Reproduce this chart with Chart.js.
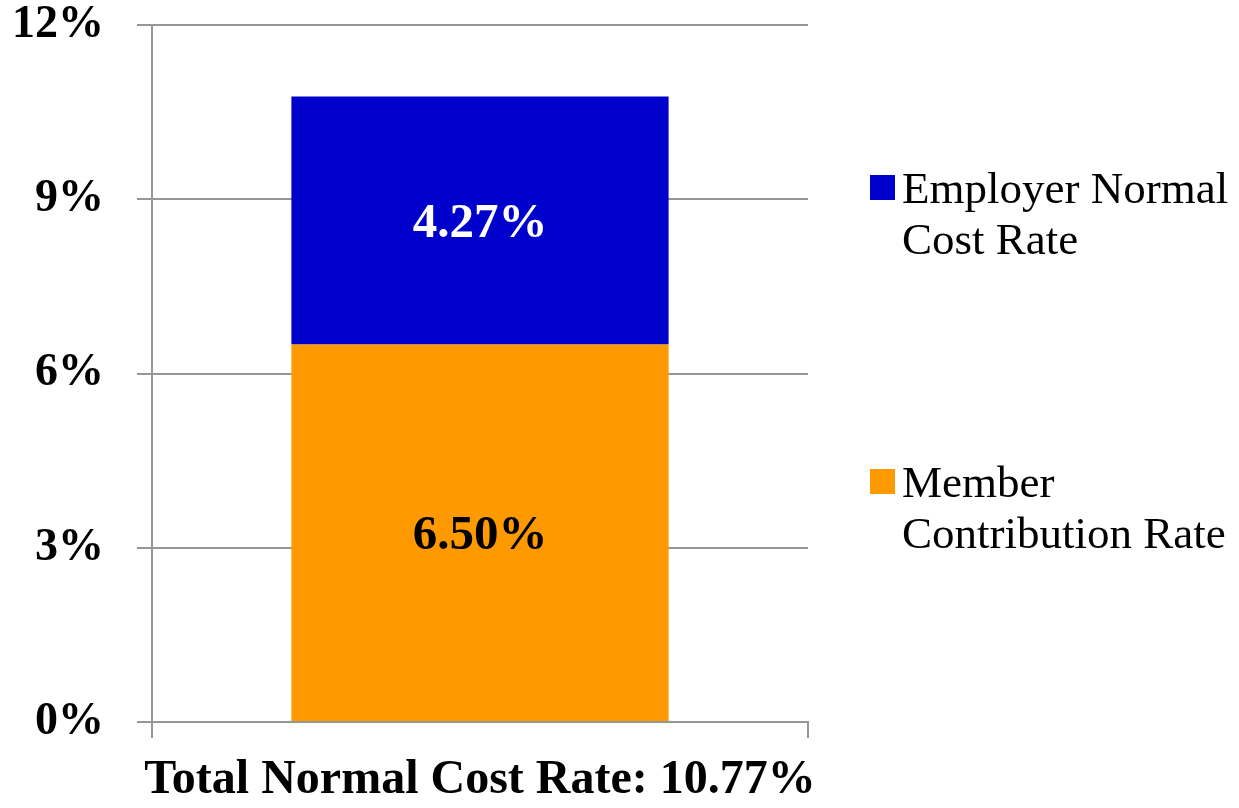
<!DOCTYPE html>
<html>
<head>
<meta charset="utf-8">
<title>Normal Cost Rate</title>
<script src="https://cdn.jsdelivr.net/npm/chart.js@4.4.1/dist/chart.umd.min.js"></script>
<style>
    html, body { margin: 0; padding: 0; background: #fff; }
    #wrap { width: 1239px; height: 808px; }
</style>
</head>
<body>
<div id="wrap"><canvas id="costChart" width="1239" height="808"></canvas></div>
<script>
// Chart data
const categories = ['Total Normal Cost Rate: 10.77%'];
const memberRate = [6.50];
const employerRate = [4.27];
const yTicks = [0, 3, 6, 9, 12];
const seriesNames = ['Member Contribution Rate', 'Employer Normal Cost Rate'];
const legendLines = [['Member', 'Contribution Rate'], ['Employer Normal', 'Cost Rate']];

const SERIF = "'Liberation Serif', 'Times New Roman', serif";
const GRID = '#969696';

// Value labels inside each stacked segment
const segmentLabels = {
    id: 'segmentLabels',
    afterDatasetsDraw(chart) {
        const ctx = chart.ctx;
        ctx.save();
        ctx.font = `bold 49px ${SERIF}`;
        ctx.textAlign = 'center';
        ctx.textBaseline = 'middle';
        chart.data.datasets.forEach((ds, i) => {
            const meta = chart.getDatasetMeta(i);
            meta.data.forEach((bar, j) => {
                const v = ds.data[j];
                ctx.fillStyle = ds.labelColor;
                ctx.fillText(v.toFixed(2) + '%', bar.x, (bar.y + bar.base) / 2 + 4);
            });
        });
        ctx.restore();
    }
};

// Right-hand legend with wrapped series names (top series first)
const sideLegend = {
    id: 'sideLegend',
    afterDraw(chart) {
        const ctx = chart.ctx;
        const area = chart.chartArea;
        const x = area.right + 62;
        const tops = [444, 150];
        ctx.save();
        ctx.font = `45px ${SERIF}`;
        ctx.textBaseline = 'alphabetic';
        ctx.textAlign = 'left';
        chart.data.datasets.forEach((ds, i) => {
            const top = area.top + tops[i];
            ctx.fillStyle = ds.backgroundColor;
            ctx.fillRect(x, top, 25, 25);
            ctx.fillStyle = '#000';
            legendLines[i].forEach((line, k) => {
                ctx.fillText(line, x + 32, top + 28 + k * 51);
            });
        });
        ctx.restore();
    }
};

new Chart(document.getElementById('costChart'), {
    type: 'bar',
    data: {
        labels: categories,
        datasets: [
            {
                label: seriesNames[0],
                data: memberRate,
                backgroundColor: '#FF9900',
                labelColor: '#000000',
                barPercentage: 0.575,
                categoryPercentage: 1
            },
            {
                label: seriesNames[1],
                data: employerRate,
                backgroundColor: '#0000CC',
                labelColor: '#FFFFFF',
                barPercentage: 0.575,
                categoryPercentage: 1
            }
        ]
    },
    options: {
        responsive: false,
        animation: false,
        layout: { padding: { top: 25, right: 431, bottom: 0, left: 0 } },
        plugins: {
            legend: { display: false },
            tooltip: { enabled: false }
        },
        scales: {
            x: {
                stacked: true,
                afterFit: (scale) => {
                    scale.height = 86;
                    scale.paddingLeft = 0;
                    scale.paddingRight = 0;
                },
                grid: {
                    display: true,
                    drawOnChartArea: false,
                    offset: true,
                    color: GRID,
                    lineWidth: 2,
                    tickLength: 16
                },
                border: { display: true, color: GRID, width: 2 },
                ticks: {
                    color: '#000',
                    padding: 14,
                    font: { family: SERIF, size: 48, weight: 'bold' }
                }
            },
            y: {
                stacked: true,
                min: 0,
                max: 12,
                afterFit: (scale) => {
                    scale.width = 152;
                    scale.paddingTop = 0;
                    scale.paddingBottom = 0;
                },
                afterBuildTicks: (scale) => {
                    scale.ticks = yTicks.map(v => ({ value: v }));
                },
                grid: {
                    color: GRID,
                    lineWidth: 2,
                    tickLength: 15
                },
                border: { display: true, color: GRID, width: 2 },
                ticks: {
                    color: '#000',
                    padding: 33,
                    font: { family: SERIF, size: 46, weight: 'bold' },
                    callback: (v) => v + '%'
                }
            }
        }
    },
    plugins: [segmentLabels, sideLegend]
});
</script>
</body>
</html>
